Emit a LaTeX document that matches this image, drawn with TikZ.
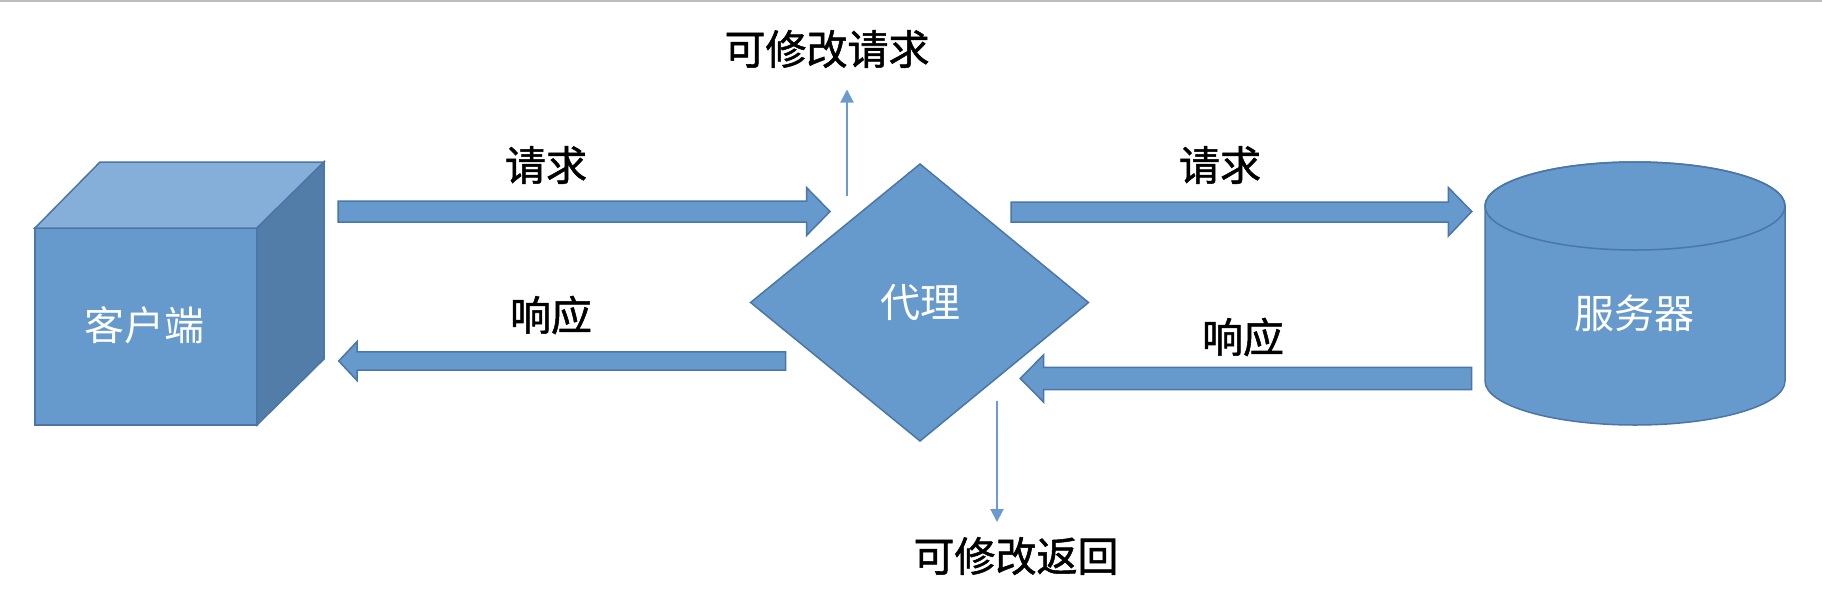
\documentclass[tikz,border=0pt]{standalone}
\usepackage{fontspec}
\newfontfamily\cjk{Noto Sans CJK SC}
\newfontfamily\cjkheavy[FakeBold=1.3]{Noto Sans CJK SC}
\usetikzlibrary{arrows.meta}
\definecolor{shapeblue}{HTML}{6699CC}
\definecolor{topblue}{HTML}{85AFD8}
\definecolor{sideblue}{HTML}{527DA8}
\definecolor{edgeblue}{HTML}{4A76A8}
\definecolor{linkblue}{HTML}{6A9BD0}
\definecolor{rulegray}{HTML}{BDBDBD}
\tikzset{
  shapebox/.style={fill=shapeblue, draw=edgeblue, line width=1.5pt, line join=miter},
  topface/.style={fill=topblue, draw=edgeblue, line width=1.5pt},
  sideface/.style={fill=sideblue, draw=edgeblue, line width=1.5pt},
  blockarrow/.style={fill=shapeblue, draw=edgeblue, line width=1.5pt, line join=miter},
  thinarrow/.style={draw=linkblue, line width=2pt, -{Triangle[length=13pt,width=13pt]}},
  label/.style={inner sep=0pt, font=\cjkheavy\fontsize{41}{41}\selectfont, text=black},
  inlabel/.style={inner sep=0pt, font=\cjk\fontsize{40}{40}\selectfont, text=white},
}
\begin{document}
\begin{tikzpicture}[x=1pt,y=-1pt]
\useasboundingbox (0,0) rectangle (1822,592);
\fill[white] (0,0) rectangle (1822,592);
\draw[rulegray, line width=2pt] (0,1) -- (1822,1);

% client cube
\draw[shapebox] (35,228) rectangle (257,425);
\draw[topface] (35,228) -- (100,162) -- (324,162) -- (257,228) -- cycle;
\draw[sideface] (257,228) -- (324,162) -- (324,359) -- (257,425) -- cycle;
\node[inlabel] (client) at (144,325) {客户端};

% proxy diamond
\draw[shapebox] (750.6,302.5) -- (920,164) -- (1088.5,302.5) -- (920,441) -- cycle;
\node[inlabel] (proxy) at (920,302.5) {代理};

% server cylinder
\draw[shapebox] (1485,206) -- (1485,381)
  arc[start angle=180, end angle=360, x radius=150pt, y radius=44pt]
  -- (1785,206)
  arc[start angle=0, end angle=180, x radius=150pt, y radius=44pt] -- cycle;
\draw[edgeblue, line width=1.5pt] (1635,206) ellipse [x radius=150pt, y radius=44pt];
\node[inlabel] (server) at (1634,313) {服务器};

% block arrows
\draw[blockarrow] (338,201) -- (806.5,201) -- (806.5,187.5) -- (830,211.5)
  -- (806.5,235.5) -- (806.5,222) -- (338,222) -- cycle;
\draw[blockarrow] (1011,202) -- (1448.4,202) -- (1448.4,187.6) -- (1471.7,211.5)
  -- (1448.4,236) -- (1448.4,222) -- (1011,222) -- cycle;
\draw[blockarrow] (785.5,351.8) -- (357,351.8) -- (357,341.6) -- (338.7,361)
  -- (357,380.5) -- (357,370) -- (785.5,370) -- cycle;
\draw[blockarrow] (1471.7,367.3) -- (1043.5,367.3) -- (1043.5,355) -- (1020.2,378.4)
  -- (1043.5,402) -- (1043.5,389.6) -- (1471.7,389.6) -- cycle;

% labels
\node[label] (req1) at (546,165) {请求};
\node[label] (req2) at (1220,165) {请求};
\node[label] (resp1) at (551,315) {响应};
\node[label] (resp2) at (1243,337) {响应};
\node[label] (modreq) at (827,49) {可修改请求};
\node[label] (modresp) at (1016,556) {可修改返回};

% thin arrows
\coordinate (upstart) at (847,195.5);
\coordinate (upend) at (847,89.5);
\coordinate (downstart) at (997,401);
\coordinate (downend) at (997,522);
\draw[thinarrow] (upstart) -- (upend);
\draw[thinarrow] (downstart) -- (downend);
\end{tikzpicture}
\end{document}
